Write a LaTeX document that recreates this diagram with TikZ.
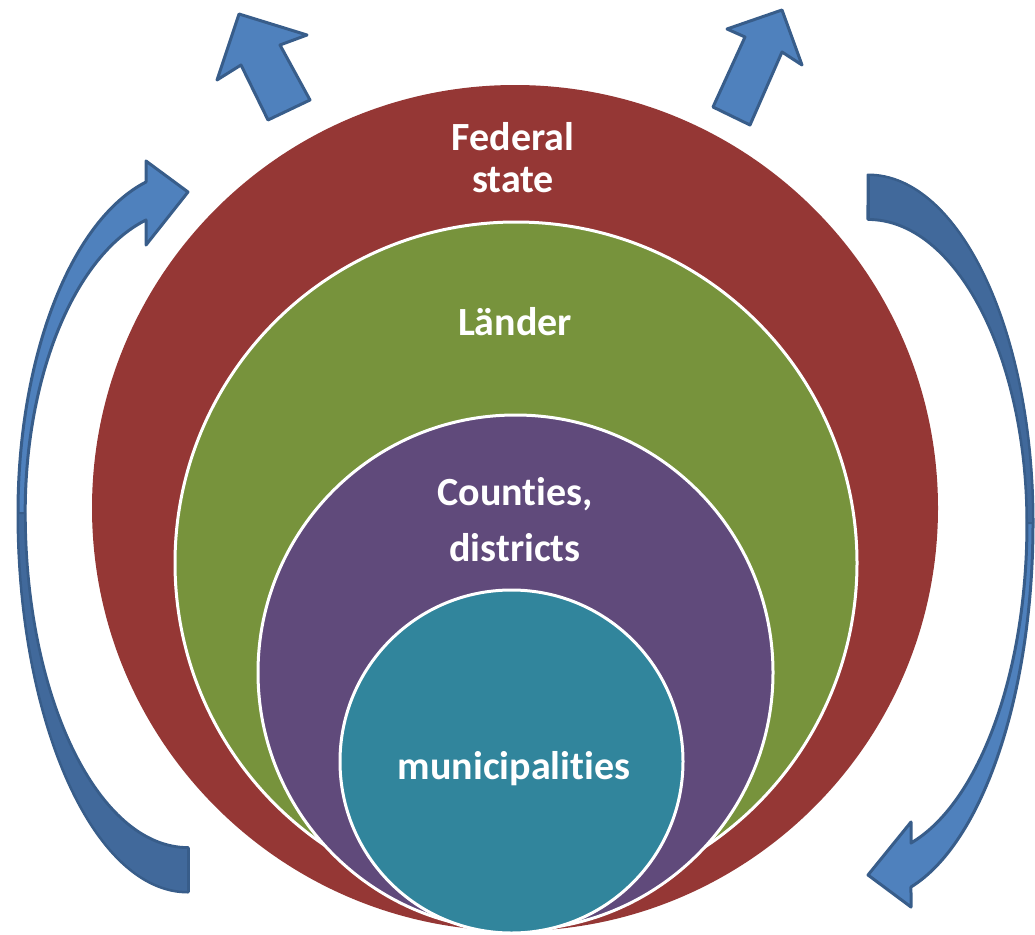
\documentclass[tikz,border=0pt]{standalone}
\usepackage{fontspec}
\setmainfont{Carlito}[Ligatures=NoCommon]
\definecolor{fedred}{HTML}{953735}
\definecolor{landgreen}{HTML}{77933C}
\definecolor{countypurple}{HTML}{604A7B}
\definecolor{muniteal}{HTML}{31859C}
\definecolor{arrowlight}{HTML}{4F81BD}
\definecolor{arrowdark}{HTML}{41699B}
\definecolor{arrowline}{HTML}{385D8A}
\begin{document}
\begin{tikzpicture}[x=1pt,y=-1pt,
  ring/.style={draw=white, line width=3pt},
  lbl/.style={text=white, font=\fontsize{40}{48}\selectfont\bfseries, anchor=base, inner sep=0pt},
  blockarrow/.style={fill=arrowlight, draw=arrowline, line width=3pt, line join=round},
  backside/.style={fill=arrowdark, draw=arrowline, line width=2pt, line join=round}]
\useasboundingbox (0,0) rectangle (1035,934);

% nested circles
\fill[fedred] (515,508) circle[radius=423];
\filldraw[fill=landgreen, ring] (516,563) circle[radius=341];
\filldraw[fill=countypurple, ring] (515.5,672.5) circle[radius=257.5];
\filldraw[fill=muniteal, ring] (511.5,761.5) circle[radius=171.5];

% labels
\node[lbl] (fed1) at (513,150) {Federal};
\node[lbl] (fed2) at (513,192) {state};
\node[lbl] (land) at (515,335) {Länder};
\node[lbl] (cty1) at (515,505) {Counties,};
\node[lbl] (cty2) at (515,561) {districts};
\node[lbl] (muni) at (514,779) {municipalities};

% left curved arrow (tail bottom, head top)
\path[blockarrow] (188,892)
  arc[start angle=90, end angle=180, x radius=170, y radius=379]
  arc[start angle=180, end angle=255.7, x radius=170, y radius=341.6]
  -- (146,161) -- (188,192) -- (146,245) -- (146,220)
  arc[start angle=255, end angle=180, x radius=163, y radius=303]
  arc[start angle=180, end angle=90, x radius=163, y radius=335]
  -- cycle;
\path[backside] (188,892)
  arc[start angle=90, end angle=180, x radius=170, y radius=379]
  -- (25,513)
  arc[start angle=180, end angle=90, x radius=163, y radius=335]
  -- cycle;
\draw[arrowline, line width=3pt, line join=round] (188,892) -- (188,848);

% right curved arrow (tail top, head bottom)
\path[blockarrow] (868,175)
  arc[start angle=270, end angle=360, x radius=165, y radius=348]
  arc[start angle=0, end angle=74.9, x radius=165, y radius=377]
  -- (911,907) -- (868,875) -- (911,822) -- (911,843)
  arc[start angle=74.3, end angle=0, x radius=159, y radius=332]
  arc[start angle=0, end angle=-90, x radius=159, y radius=304]
  -- cycle;
\path[backside] (868,175)
  arc[start angle=270, end angle=360, x radius=165, y radius=348]
  -- (1027,523)
  arc[start angle=0, end angle=-90, x radius=159, y radius=304]
  -- cycle;
\draw[arrowline, line width=3pt] (868,175) -- (868,219);

% straight arrows
\path[blockarrow] (239,14) -- (307,35) -- (280,45) -- (310,100)
  -- (268,120) -- (241,65) -- (217,80) -- cycle;
\path[blockarrow] (782,10) -- (802,65) -- (782,52) -- (750,125)
  -- (713,107) -- (745,37) -- (727,29) -- cycle;
\end{tikzpicture}
\end{document}
